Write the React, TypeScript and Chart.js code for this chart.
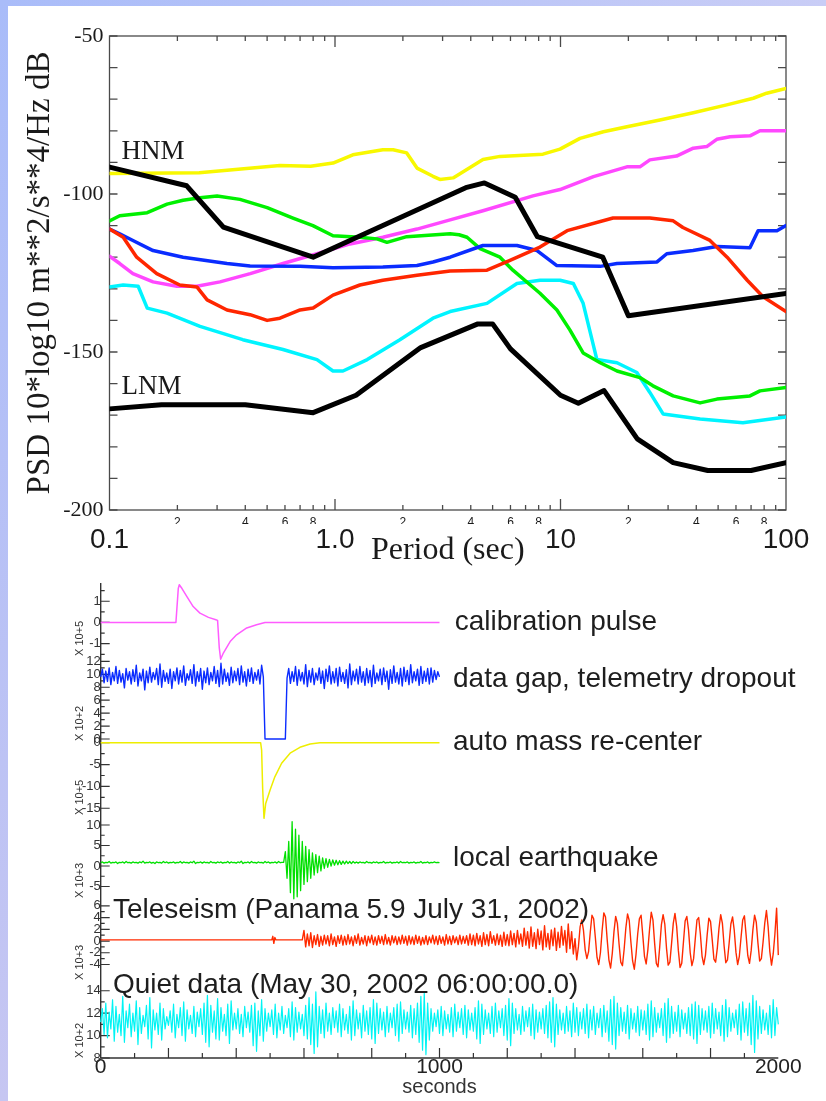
import React, { useEffect, useRef } from 'react';
import { Chart, registerables } from 'chart.js';

Chart.register(...registerables);

const SANS = "'Liberation Sans', Arial, Helvetica, sans-serif";
const SERIF = "'Liberation Serif', 'Times New Roman', Times, serif";

// ---------------- PSD panel: period (s) vs power (dB) ----------------
const hnmPeriod = [0.1, 0.22, 0.32, 0.8, 3.8, 4.6, 6.3, 7.9, 15.4, 20, 100];
const hnmDb = [-91.5, -97.4, -110.5, -120.0, -98.0, -96.5, -101.0, -113.5, -120.0, -138.5, -131.5];

const lnmPeriod = [0.1, 0.17, 0.4, 0.8, 1.24, 2.4, 4.3, 5.0, 6.0, 10, 12, 15.6, 21.9, 31.6, 45, 70, 100];
const lnmDb = [-168.0, -166.7, -166.7, -169.2, -163.7, -148.6, -141.1, -141.1, -149.0, -163.7, -166.2, -162.2, -177.5, -185.0, -187.5, -187.5, -185.0];

const yellowPeriod = [0.1, 0.25, 0.57, 0.78, 0.98, 1.2, 1.63, 1.81, 2.08, 2.31, 2.72, 2.92, 3.34, 4.53, 5.39, 8.36, 9.95, 12.2, 15.5, 19.7, 27.6, 38.8, 54.6, 71.6, 82.1, 100];
const yellowDb = [-93.5, -93.3, -91, -91.2, -90.2, -87.6, -86, -86, -87, -91.8, -94.4, -95.4, -94.9, -89.1, -88.1, -87.4, -85.8, -82.4, -80.3, -78.7, -76.6, -74.3, -71.8, -69.7, -68.1, -66.6];

const magentaPeriod = [0.1, 0.111, 0.127, 0.156, 0.199, 0.244, 0.309, 0.421, 0.588, 0.832, 1.166, 1.63, 2.31, 3.24, 4.53, 7.55, 9.95, 14.0, 19.7, 22.5, 24.9, 32.7, 38.8, 44.5, 49.3, 56.5, 69.2, 76.7, 100];
const magentaDb = [-119.7, -122, -125.2, -127.8, -129.2, -129.2, -127.8, -125.2, -122, -118.9, -115.8, -113.7, -111.1, -108.2, -105.3, -100.6, -98.6, -94.5, -91.4, -91.4, -89.2, -88, -85.5, -85, -82.7, -81.9, -81.6, -80, -80];

const redPeriod = [0.1, 0.115, 0.132, 0.162, 0.205, 0.244, 0.271, 0.332, 0.42, 0.5, 0.57, 0.70, 0.8, 0.98, 1.29, 1.63, 2.31, 3.24, 4.72, 5.97, 8.11, 10.7, 17.1, 24.9, 31.6, 34.9, 46, 54.8, 67.3, 79.1, 100];
const redDb = [-111.1, -113.7, -120, -125.2, -128.8, -129.4, -133.5, -136.7, -138.2, -140, -139.3, -136.7, -136.1, -132, -128.8, -127.3, -125.7, -124.4, -124.1, -121, -116.8, -111.6, -107.6, -107.6, -108.5, -110.6, -114.7, -120, -127.3, -132.5, -137.2];

const bluePeriod = [0.1, 0.111, 0.127, 0.156, 0.212, 0.332, 0.42, 0.70, 0.98, 1.63, 2.31, 2.72, 3.24, 4.53, 6.41, 7.87, 9.6, 15, 17.8, 26.8, 29.6, 38.7, 49.4, 56.5, 69.2, 75.2, 91.2, 100];
const blueDb = [-111.1, -112.6, -114.7, -117.9, -120, -122, -122.8, -122.9, -123.3, -123.1, -122.6, -121.5, -120, -116.3, -116.3, -117.9, -122.6, -122.9, -122, -121.5, -118.9, -117.9, -116.6, -116.8, -117, -111.6, -111.6, -110];

const greenPeriod = [0.1, 0.111, 0.147, 0.18, 0.212, 0.252, 0.30, 0.379, 0.50, 0.651, 0.798, 0.98, 1.29, 1.535, 1.70, 2.08, 3.24, 3.55, 3.85, 4.40, 5.39, 6.15, 8.11, 9.64, 11.0, 12.6, 15.0, 17.8, 22.5, 25.7, 31.6, 41.6, 49.4, 69.2, 76.7, 100];
const greenDb = [-108.5, -106.9, -105.9, -103.2, -102, -101.2, -100.6, -101.7, -104.3, -107.6, -110, -113.2, -113.7, -114.2, -115.3, -113.5, -112.6, -112.9, -113.7, -117.3, -120, -124.1, -131.4, -136.7, -143, -150.3, -153.4, -156, -158.1, -160.7, -163.9, -166.1, -164.9, -163.9, -162.3, -161.2];

const cyanPeriod = [0.1, 0.115, 0.134, 0.147, 0.18, 0.252, 0.39, 0.588, 0.832, 0.98, 1.085, 1.39, 1.94, 2.72, 3.24, 4.72, 6.41, 8.11, 9.96, 11.4, 12.6, 14.5, 17.8, 21.8, 24.9, 28.5, 41.6, 64.4, 100];
const cyanDb = [-129.4, -128.8, -129.2, -136.1, -137.7, -141.9, -146.1, -149.2, -152.4, -156, -156, -152.4, -146.1, -139.3, -137.2, -134.6, -128.3, -127.3, -127.3, -128.3, -134.6, -152.4, -153.4, -156.5, -162.8, -169.6, -171.2, -172.4, -170.6];

const periodLabelTicks = [0.1, 1, 10, 100];
const periodLabels = ['0.1', '1.0', '10', '100'];
const periodMinorLabelTicks = [0.2, 0.4, 0.6, 0.8, 2, 4, 6, 8, 20, 40, 60, 80];
const periodMinorLabels = ['2', '4', '6', '8', '2', '4', '6', '8', '2', '4', '6', '8'];
const periodMinorTicks = [0.2, 0.3, 0.4, 0.5, 0.6, 0.7, 0.8, 0.9, 2, 3, 4, 5, 6, 7, 8, 9, 20, 30, 40, 50, 60, 70, 80, 90];
const periodDecadeTicks = [1, 10];
const dbLabelTicks = [-200, -150, -100, -50];
const dbMinorTicks = [-190, -180, -170, -160, -140, -130, -120, -110, -90, -80, -70, -60];

const noiseModelNotes = [
  { text: 'HNM', period: 0.113, db: -86.7 },
  { text: 'LNM', period: 0.113, db: -161.1 },
];

// ---------------- Seismogram panel: seconds vs counts ----------------
const calT = [0, 222, 224, 229, 232, 240, 254, 273, 293, 318, 340, 345, 350, 354, 362, 382, 401, 431, 460, 485, 1000];
const calV = [0, 0, 0.45, 1.6, 1.78, 1.6, 1.23, 0.75, 0.44, 0.24, 0.13, 0.1, -1.2, -1.73, -1.44, -0.9, -0.58, -0.26, -0.11, 0, 0];

// 5 s samples from 0 s
const gapBefore = [
  9.6, 10.8, 8.7, 10.5, 8.9, 11.0, 8.4, 10.3, 9.0, 11.2, 8.6, 10.6, 8.8, 10.1, 7.9, 10.9, 9.1, 10.4, 8.5, 10.7,
  8.9, 11.4, 8.2, 10.2, 9.0, 10.8, 7.6, 10.5, 8.7, 11.1, 8.8, 10.3, 9.2, 10.9, 8.4, 11.6, 8.0, 10.6, 8.9, 10.2,
  8.6, 10.8, 7.8, 10.4, 9.0, 11.0, 8.5, 10.6, 8.8, 11.3, 8.3, 10.1, 9.1, 10.7, 8.6, 11.5, 8.2, 10.4, 8.9, 10.9,
  7.7, 10.5, 8.7, 11.0, 8.4, 10.3, 9.0, 11.2, 8.6, 10.6, 8.1, 11.7, 8.5, 10.8, 8.9, 10.2, 8.3, 11.1, 8.7, 10.5,
  9.0, 10.9, 8.4, 11.3, 8.8, 10.4, 8.2, 10.8, 8.9, 11.0, 8.6, 10.3, 9.1, 10.7, 8.5, 11.4, 9.6,
];
const gapDropout = [0, 0, 0, 0, 0, 0, 0, 0, 0, 0, 0, 0, 0];
const gapAfter = [
  9.4, 10.9, 8.6, 10.4, 8.9, 11.2, 8.3, 10.7, 9.0, 10.3, 8.5, 11.5, 8.1, 10.6, 8.8, 10.9, 8.4, 10.2, 9.1, 11.0,
  8.6, 10.5, 7.8, 10.8, 8.9, 11.3, 8.5, 10.4, 8.7, 10.9, 8.2, 11.1, 8.9, 10.3, 8.6, 10.7, 7.9, 11.6, 8.4, 10.5,
  9.0, 10.8, 8.5, 11.2, 8.8, 10.4, 8.3, 10.9, 8.7, 10.6, 8.1, 11.4, 8.6, 10.2, 9.0, 10.8, 8.4, 11.0, 8.9, 10.5,
  7.7, 10.7, 8.6, 11.3, 8.8, 10.3, 8.5, 10.9, 8.2, 11.1, 8.9, 10.6, 8.4, 11.5, 8.7, 10.4, 9.0, 10.8, 8.3, 11.2,
  8.6, 10.5, 8.9, 10.9, 8.5, 11.0, 8.8, 10.6, 9.2, 10.4, 9.6,
];

const recenterT = [0, 472, 475, 478, 482, 487, 500, 514, 534, 559, 588, 618, 647, 1000];
const recenterV = [0, 0, -1.7, -10.4, -17.3, -13.9, -10.8, -7.8, -4.7, -2.4, -1.05, -0.3, 0, 0];

// 5 s samples from 0 s
const localQuiet = [
  0.8, 1.0, 0.7, 0.9, 0.8, 1.1, 0.7, 0.9, 0.8, 1.0, 0.6, 0.9, 0.8, 1.0, 0.7, 1.1, 0.8, 0.9, 0.7, 1.0,
  0.8, 0.9, 0.7, 1.0, 0.8, 1.2, 0.7, 0.9, 0.8, 1.0, 0.7, 0.9, 0.6, 1.0, 0.8, 0.9, 0.7, 1.1, 0.8, 1.0,
  0.7, 0.9, 0.8, 1.0, 0.7, 0.9, 0.8, 1.1, 0.7, 1.0, 0.8, 0.9, 0.7, 1.0, 0.8, 1.2, 0.6, 0.9, 0.8, 1.0,
  0.7, 1.0, 0.8, 0.9, 0.7, 1.1, 0.8, 0.9, 0.7, 1.0, 0.8, 1.0, 0.7, 0.9, 0.8, 1.1, 0.7, 1.0, 0.8, 0.9,
  0.7, 1.0, 0.8, 1.2, 0.6, 0.9, 0.8, 1.0, 0.7, 1.1, 0.8, 0.9, 0.7, 1.0, 0.8, 0.9, 0.7, 1.1, 0.8, 1.0,
  0.7, 0.9, 0.8, 1.0, 0.7, 1.1, 0.8, 0.9, 0.9,
];
const localBurst = [
  3.5, -3.0, 6.0, -6.5, 10.8, -8.0, 9.0, -7.5, 7.5, -6.0, 6.0, -4.5, 4.8, -3.8, 4.0, -3.0, 3.2, -2.2, 2.8, -1.6,
  2.4, -1.2, 2.0, -0.6, 1.8, -0.3, 1.6, 0.0, 1.5, 0.2, 1.4, 0.3, 1.3, 0.4, 1.2, 0.5, 1.2, 0.6, 1.1, 0.6,
  1.1, 0.7,
];
const localCoda = [
  1.0, 0.7, 1.0, 0.8, 0.9, 0.7, 1.1, 0.8, 0.9, 0.7, 1.0, 0.8, 1.0, 0.7, 0.9, 0.8, 1.1, 0.7, 0.9, 0.8,
  1.0, 0.7, 0.9, 0.8, 1.0, 0.7, 1.1, 0.8, 0.9, 0.8, 1.0, 0.7, 0.9, 0.8, 1.0, 0.7, 0.9, 0.8, 1.1, 0.7,
  0.9, 0.8, 1.0, 0.7, 0.9, 0.8, 1.0, 0.8, 0.9, 0.8,
];

const teleQuietT = [0, 505, 508, 511, 514, 517, 595];
const teleQuietV = [0.2, 0.2, 0.8, -0.4, 0.6, 0.2, 0.2];
// 5 s samples from 600 s
const teleBody = [
  1.8, -1.0, 1.2, -0.8, 1.4, -1.1, 0.9, -0.6, 1.1, -0.9, 0.8, -0.7, 1.0, -0.5, 0.9, -0.8, 1.2, -0.6, 0.7, -0.9,
  0.9, -0.4, 1.0, -0.7, 0.8, -0.6, 1.1, -0.5, 0.7, -0.8, 0.9, -0.4, 1.2, -0.7, 0.6, -0.5, 0.9, -0.8, 0.8, -0.3,
  1.0, -0.6, 0.7, -0.7, 0.9, -0.4, 0.8, -0.6, 1.1, -0.5, 0.6, -0.7, 0.9, -0.3, 0.8, -0.6, 0.7, -0.5, 1.0, -0.4,
  0.8, -0.7, 0.9, -0.5, 0.7, -0.6, 1.0, -0.4, 0.8, -0.7, 0.6, -0.5, 0.9, -0.6, 0.7, -0.3, 1.0, -0.5, 0.8, -0.6,
  0.9, -0.4, 0.7, -0.7, 1.1, -0.5, 0.8, -0.6, 0.9, -0.3, 0.7, -0.6, 1.0, -0.5, 0.8, -0.4, 0.9, -0.7, 1.2, -0.6,
  1.0, -0.8, 1.3, -0.5, 0.9, -0.9, 1.4, -0.6, 1.1, -0.8, 1.6, -0.4, 0.9, -0.7, 1.2, -0.6, 1.0, -0.9, 1.5, -0.7,
  1.1, -0.8, 1.7, -0.6, 1.3, -1.0, 1.8, -0.5, 1.2, -0.9, 2.2,
];
const teleBuild = [
  -0.7, 1.6, -1.2, 2.4, -0.9, 1.4, -1.3, 2.0, -0.6, 1.7, -1.5, 2.6, -1.0, 1.3, -1.4, 1.9, -0.8, 2.2, -1.6, 1.5,
  -1.1, 2.5, -0.7, 1.8, -1.9, 2.9, -1.3, 1.6, -2.2, 0.4,
];
const teleSurface = [
  -3.2, -1.0, 2.4, 3.6, 1.8, -1.5, -3.0,
  -1.8, 1.5, 4.4, 3.8, 0.6, -2.8, -4.0,
  -2.0, 1.8, 4.8, 4.1, 0.2, -3.2, -4.6, -2.1,
  1.6, 4.2, 3.0, -0.5, -3.6, -4.2,
  -1.4, 2.2, 4.6, 3.5, -0.2, -3.4, -4.8,
  -2.3, 1.2, 3.8, 4.4, 1.0, -2.6, -3.9,
  -1.5, 2.0, 4.9, 3.6, -0.4, -3.8, -4.4,
  -1.0, 2.8, 4.5, 2.9, -1.2, -4.1, -3.6,
  -0.4, 3.0, 4.7, 2.5, -1.6, -4.5, -3.8,
  -0.2, 3.4, 4.2, 1.9, -2.0, -4.2, -3.0,
  0.4, 3.6, 4.0, 1.2, -2.6, -4.0, -2.4,
  1.0, 3.9, 3.3, 0.2, -3.1, -3.6, -1.2,
  2.2, 4.5, 3.0, -0.8, -3.7, -3.2, -0.3,
  2.9, 4.1, 1.8, -1.9, -4.0, -2.6, 0.6,
  3.6, 4.3, 1.0, -2.5, -3.8, -1.6, 1.9,
  4.4, 3.2, -0.4, -3.4, -3.0, -0.2, 3.0,
  5.2, 2.4, -1.8, -4.1, -2.2, 1.2, 5.6, -2.4,
];

// 5 s samples from 0 s
const quietValues = [
  11.2, 12.4, 10.1, 12.9, 9.8, 12.1, 10.6, 13.2, 9.5, 12.6, 10.3, 11.9, 10.0, 13.5, 9.4, 12.2, 10.7, 12.8, 9.9, 12.0,
  10.4, 13.1, 9.2, 12.5, 10.2, 11.8, 10.8, 12.7, 9.7, 13.4, 8.9, 12.3, 10.5, 12.0, 10.1, 12.9, 9.6, 12.4, 10.6, 11.7,
  10.9, 12.2, 10.3, 12.8, 9.8, 11.9, 10.7, 12.5, 10.0, 13.0, 9.5, 12.3, 10.6, 11.8, 10.2, 12.6, 9.9, 12.1, 10.8, 12.4,
  10.1, 12.9, 9.4, 13.6, 9.0, 12.7, 10.3, 12.2, 9.7, 13.3, 9.6, 12.5, 10.4, 11.9, 10.0, 12.8, 9.3, 13.1, 10.5, 12.0,
  10.6, 12.4, 10.2, 11.9, 9.9, 12.6, 10.7, 12.1, 10.3, 12.7, 9.1, 12.9, 8.6, 12.2, 10.0, 13.2, 9.5, 12.4, 10.4, 12.0,
  10.8, 12.3, 10.1, 12.8, 9.8, 12.0, 10.5, 12.6, 10.2, 11.8, 10.7, 12.4, 9.9, 13.0, 9.6, 12.5, 10.3, 12.1, 10.6, 11.9,
  10.0, 12.7, 9.7, 13.4, 9.2, 12.8, 8.4, 13.9, 9.0, 12.6, 10.2, 12.3, 9.8, 12.9, 10.4, 12.0, 10.1, 12.5, 10.7, 12.2,
  10.3, 12.8, 9.9, 12.4, 10.5, 11.9, 10.2, 12.6, 9.6, 13.1, 10.0, 12.3, 10.6, 12.0, 9.8, 12.7, 10.4, 12.2, 10.1, 12.5,
  9.7, 13.2, 9.3, 12.9, 10.2, 12.4, 10.5, 12.1, 9.9, 12.6, 10.3, 12.0, 10.7, 12.5, 10.0, 12.8, 9.5, 13.0, 10.2, 12.3,
  10.6, 12.1, 10.3, 12.7, 9.8, 12.4, 10.1, 12.9, 9.4, 13.5, 8.7, 13.8, 8.3, 12.9, 9.6, 12.4, 10.4, 12.0, 10.8, 12.3,
  10.2, 12.6, 10.0, 12.2, 10.6, 11.9, 10.3, 12.5, 9.9, 12.8, 10.4, 12.1, 10.7, 12.4, 10.1, 12.7, 9.8, 12.3, 10.5, 12.0,
  10.4, 12.5, 9.7, 13.1, 9.3, 12.8, 10.1, 12.3, 10.6, 12.0, 10.2, 12.6, 9.9, 12.9, 10.3, 12.2, 10.7, 12.4, 10.0, 12.7,
  9.6, 13.3, 9.1, 12.9, 10.2, 12.4, 10.5, 11.9, 10.1, 12.6, 10.4, 12.2, 10.8, 12.5, 10.0, 12.8, 9.7, 12.3, 10.3, 12.1,
  10.6, 12.4, 10.2, 12.7, 9.8, 13.0, 9.4, 13.4, 9.0, 12.8, 10.1, 12.3, 10.5, 12.0, 10.2, 12.6, 10.4, 12.2, 9.9, 12.9,
  10.3, 12.5, 10.0, 12.1, 10.6, 12.4, 10.2, 12.8, 9.8, 12.3, 10.5, 12.6, 10.1, 12.0, 10.7, 12.4, 9.9, 12.7, 10.3, 12.2,
  9.5, 13.2, 9.2, 13.5, 8.8, 12.9, 10.0, 12.5, 10.4, 12.1, 10.2, 12.7, 9.7, 12.4, 10.6, 12.0, 10.3, 12.6, 10.0, 12.3,
  10.5, 12.2, 10.1, 12.8, 9.6, 13.1, 9.9, 12.5, 10.3, 12.0, 10.7, 12.4, 10.0, 12.9, 9.4, 13.3, 9.8, 12.6, 10.2, 12.1,
  10.4, 12.7, 9.9, 12.3, 10.6, 12.0, 10.2, 12.5, 10.0, 12.8, 9.7, 13.0, 9.3, 12.7, 10.1, 12.4, 10.5, 12.2, 10.3, 12.6,
  9.8, 12.9, 10.2, 12.4, 10.6, 12.1, 10.0, 12.7, 9.5, 13.2, 9.9, 12.5, 10.4, 12.0, 10.7, 12.3, 10.1, 12.8, 9.6, 13.0,
  10.3, 12.4, 10.0, 12.9, 9.2, 13.6, 8.5, 13.1, 9.7, 12.6, 10.2, 12.3, 10.5, 12.0, 10.1, 12.7, 9.8, 13.2, 10.0, 12.5,
  11.0,
];

const secondsLabelTicks = [0, 1000, 2000];
const secondsLongTicks = [200, 400, 600, 800, 1000, 1200, 1400, 1600, 1800];
const secondsShortTicks = [100, 300, 500, 700, 900, 1100, 1300, 1500, 1700, 1900];

const calMajor = [-1, 0, 1];
const calMinor = [-1.5, -0.5, 0.5, 1.5];
const gapMajor = [0, 2, 4, 6, 8, 10, 12];
const gapMinor = [1, 3, 5, 7, 9, 11];
const recenterMajor = [-15, -10, -5, 0];
const recenterMinor = [-12.5, -7.5, -2.5];
const localMajor = [-5, 0, 5, 10];
const localMinor = [-2.5, 2.5, 7.5];
const teleMajor = [-4, -2, 0, 2, 4, 6];
const teleMinor = [-3, -1, 1, 3, 5];
const quietMajor = [8, 10, 12, 14];
const quietMinor = [9, 11, 13];

const pairs = (xs: number[], ys: number[]) => xs.map((x, i) => ({ x, y: ys[i] }));
const sampled = (t0: number, dt: number, vs: number[]) => vs.map((v, i) => ({ x: t0 + i * dt, y: v }));

// one band per trace, top to bottom; band height is the stack weight in px
const traceBands = [
  { id: 'cal', unit: 'X 10+5', min: -1.58, max: 1.86, height: 73, major: calMajor, minor: calMinor },
  { id: 'gap', unit: 'X 10+2', min: -0.31, max: 12.83, height: 85, major: gapMajor, minor: gapMinor },
  { id: 'recenter', unit: 'X 10+5', min: -16.54, max: 0.39, height: 74, major: recenterMajor, minor: recenterMinor },
  { id: 'local', unit: 'X 10+3', min: -7.8, max: 12.44, height: 83, major: localMajor, minor: localMinor },
  { id: 'tele', unit: 'X 10+3', min: -6.64, max: 7.33, height: 82, major: teleMajor, minor: teleMinor },
  { id: 'quiet', unit: 'X 10+2', min: 8, max: 14.96, height: 78, major: quietMajor, minor: quietMinor },
];

const traceCaptions = [
  { text: 'calibration pulse', axis: 'cal', t: 1045, v: 0 },
  { text: 'data gap, telemetry dropout', axis: 'gap', t: 1040, v: 9.2 },
  { text: 'auto mass re-center', axis: 'recenter', t: 1040, v: 0 },
  { text: 'local earthquake', axis: 'local', t: 1040, v: 1.8 },
  { text: 'Teleseism (Panama 5.9 July 31, 2002)', axis: 'tele', t: 36, v: 5.2 },
  { text: 'Quiet data (May 30, 2002 06:00:00.0)', axis: 'quiet', t: 36, v: 14.5 },
];

const psdDecor = {
  id: 'psdDecor',
  beforeDatasetsDraw(chart: any) {
    const { ctx, chartArea: a, scales } = chart;
    const x = scales.x;
    const y = scales.y;
    ctx.save();
    ctx.strokeStyle = '#4a4a4a';
    ctx.lineWidth = 1.3;
    ctx.strokeRect(a.left, a.top, a.right - a.left, a.bottom - a.top);
    ctx.beginPath();
    for (const p of periodMinorTicks) {
      const px = x.getPixelForValue(p);
      ctx.moveTo(px, a.bottom); ctx.lineTo(px, a.bottom - 5);
      ctx.moveTo(px, a.top); ctx.lineTo(px, a.top + 5);
    }
    for (const p of periodDecadeTicks) {
      const px = x.getPixelForValue(p);
      ctx.moveTo(px, a.bottom); ctx.lineTo(px, a.bottom - 11);
      ctx.moveTo(px, a.top); ctx.lineTo(px, a.top + 11);
    }
    for (const v of [...dbLabelTicks, ...dbMinorTicks]) {
      const py = y.getPixelForValue(v);
      ctx.moveTo(a.left, py); ctx.lineTo(a.left + 8, py);
      ctx.moveTo(a.right, py); ctx.lineTo(a.right - 8, py);
    }
    ctx.stroke();
    ctx.restore();
  },
  afterDatasetsDraw(chart: any) {
    const { ctx, scales } = chart;
    ctx.save();
    ctx.font = `27px ${SERIF}`;
    ctx.fillStyle = '#1a1a1a';
    ctx.textAlign = 'left';
    ctx.textBaseline = 'middle';
    for (const n of noiseModelNotes) {
      ctx.fillText(n.text, scales.x.getPixelForValue(n.period), scales.y.getPixelForValue(n.db));
    }
    ctx.restore();
  },
};

const traceDecor = {
  id: 'traceDecor',
  beforeDatasetsDraw(chart: any) {
    const { ctx, chartArea: a, scales } = chart;
    ctx.save();
    ctx.strokeStyle = '#333333';
    ctx.lineWidth = 1.4;
    ctx.beginPath();
    ctx.moveTo(a.left, a.top);
    ctx.lineTo(a.left, a.bottom);
    ctx.lineTo(a.right, a.bottom);
    ctx.stroke();
    ctx.lineWidth = 1.2;
    ctx.beginPath();
    for (const band of traceBands) {
      const s = scales[band.id];
      for (const v of band.major) {
        const py = s.getPixelForValue(v);
        ctx.moveTo(a.left, py); ctx.lineTo(a.left + 9, py);
      }
      for (const v of band.minor) {
        const py = s.getPixelForValue(v);
        ctx.moveTo(a.left, py); ctx.lineTo(a.left + 4, py);
      }
    }
    for (const t of secondsLongTicks) {
      const px = scales.x.getPixelForValue(t);
      ctx.moveTo(px, a.bottom); ctx.lineTo(px, a.bottom - 10);
    }
    for (const t of secondsShortTicks) {
      const px = scales.x.getPixelForValue(t);
      ctx.moveTo(px, a.bottom); ctx.lineTo(px, a.bottom - 5);
    }
    ctx.stroke();
    ctx.restore();
  },
  afterDatasetsDraw(chart: any) {
    const { ctx, scales } = chart;
    ctx.save();
    ctx.font = `28px ${SANS}`;
    ctx.fillStyle = '#1e1e1e';
    ctx.textAlign = 'left';
    ctx.textBaseline = 'middle';
    for (const c of traceCaptions) {
      ctx.fillText(c.text, scales.x.getPixelForValue(c.t), scales[c.axis].getPixelForValue(c.v));
    }
    ctx.restore();
  },
};

const hidden = { grid: { display: false, drawTicks: false }, border: { display: false } };

function psdConfig(): any {
  const curves = [
    { label: 'HNM', p: hnmPeriod, db: hnmDb, color: '#000000', width: 5 },
    { label: 'LNM', p: lnmPeriod, db: lnmDb, color: '#000000', width: 5 },
    { label: 'red', p: redPeriod, db: redDb, color: '#ff2600', width: 3.5 },
    { label: 'blue', p: bluePeriod, db: blueDb, color: '#0a2cff', width: 3.5 },
    { label: 'green', p: greenPeriod, db: greenDb, color: '#00f000', width: 3.5 },
    { label: 'cyan', p: cyanPeriod, db: cyanDb, color: '#00f4ff', width: 3.5 },
    { label: 'magenta', p: magentaPeriod, db: magentaDb, color: '#ff48ff', width: 3.5 },
    { label: 'yellow', p: yellowPeriod, db: yellowDb, color: '#f8f800', width: 3.5 },
  ];
  return {
    type: 'line',
    data: {
      datasets: curves.map((c) => ({
        label: c.label,
        data: pairs(c.p, c.db),
        borderColor: c.color,
        borderWidth: c.width,
        pointRadius: 0,
        tension: 0,
        fill: false,
        borderJoinStyle: 'round',
        borderCapStyle: 'round',
        xAxisID: 'x',
        yAxisID: 'y',
      })),
    },
    options: {
      responsive: false,
      animation: false,
      devicePixelRatio: 1,
      events: [],
      layout: { padding: { left: 0, top: 36, right: 40, bottom: 0 } },
      plugins: { legend: { display: false }, tooltip: { enabled: false }, title: { display: false } },
      scales: {
        x: {
          type: 'logarithmic', position: 'bottom', min: 0.1, max: 100, weight: 1, ...hidden,
          afterBuildTicks: (s: any) => { s.ticks = periodLabelTicks.map((value) => ({ value })); },
          afterFit: (s: any) => { s.height = 51; },
          ticks: {
            autoSkip: false, maxRotation: 0, padding: -1, color: '#1a1a1a',
            font: { family: SANS, size: 28 },
            callback: (_v: number, i: number) => periodLabels[i],
          },
          title: {
            display: true, text: 'Period (sec)', color: '#1a1a1a',
            font: { family: SERIF, size: 32 }, padding: { top: 0, bottom: 5 },
          },
        },
        x2: {
          type: 'logarithmic', position: 'bottom', min: 0.1, max: 100, weight: 0, ...hidden,
          afterBuildTicks: (s: any) => { s.ticks = periodMinorLabelTicks.map((value) => ({ value })); },
          afterFit: (s: any) => { s.height = 14; },
          ticks: {
            autoSkip: false, maxRotation: 0, padding: 5, color: '#1a1a1a',
            font: { family: SANS, size: 12 },
            callback: (_v: number, i: number) => periodMinorLabels[i],
          },
        },
        y: {
          type: 'linear', position: 'left', min: -200, max: -50, ...hidden,
          afterBuildTicks: (s: any) => { s.ticks = dbLabelTicks.map((value) => ({ value })); },
          afterFit: (s: any) => { s.width = 109.5; },
          ticks: {
            autoSkip: false, padding: 6, color: '#1a1a1a',
            font: { family: SERIF, size: 22 },
            callback: (v: number) => String(v),
          },
          title: {
            display: true, text: 'PSD 10*log10 m**2/s**4/Hz dB', color: '#1a1a1a',
            font: { family: SERIF, size: 33 }, padding: { top: 21, bottom: 0 },
          },
        },
      },
    },
    plugins: [psdDecor],
  };
}

function traceConfig(): any {
  const traces = [
    { id: 'cal', label: 'calibration pulse', data: pairs(calT, calV), color: '#ff5cff', width: 1.5 },
    { id: 'gap', label: 'data gap', data: sampled(0, 5, [...gapBefore, ...gapDropout, ...gapAfter]), color: '#0b2cff', width: 1.4 },
    { id: 'recenter', label: 'mass re-center', data: pairs(recenterT, recenterV), color: '#eeee00', width: 1.5 },
    { id: 'local', label: 'local earthquake', data: sampled(0, 5, [...localQuiet, ...localBurst, ...localCoda]), color: '#00e000', width: 1.3 },
    {
      id: 'tele', label: 'teleseism',
      data: [...pairs(teleQuietT, teleQuietV), ...sampled(600, 5, [...teleBody, ...teleBuild, ...teleSurface])],
      color: '#ff2a00', width: 1.4,
    },
    { id: 'quiet', label: 'quiet data', data: sampled(0, 5, quietValues), color: '#00f4f4', width: 1.2 },
  ];

  const scales: any = {
    x: {
      type: 'linear', position: 'bottom', min: 0, max: 2000, ...hidden,
      afterBuildTicks: (s: any) => { s.ticks = secondsLabelTicks.map((value) => ({ value })); },
      afterFit: (s: any) => { s.height = 43; },
      ticks: {
        autoSkip: false, maxRotation: 0, padding: -3, color: '#222222',
        font: { family: SANS, size: 21 },
        callback: (v: number) => String(v),
      },
      title: {
        display: true, text: 'seconds', color: '#333333',
        font: { family: SANS, size: 20 }, padding: { top: 0, bottom: 2 },
      },
    },
  };
  traceBands.forEach((band, i) => {
    scales[band.id] = {
      type: 'linear', position: 'left', stack: 'traces', stackWeight: band.height,
      weight: traceBands.length - i, min: band.min, max: band.max, ...hidden,
      afterBuildTicks: (s: any) => { s.ticks = band.major.map((value) => ({ value })); },
      afterFit: (s: any) => { s.width = 100.7; },
      ticks: {
        autoSkip: false, padding: 0, color: '#333333',
        font: { family: SANS, size: 13 },
        callback: (v: number) => String(v),
      },
      title: {
        display: true, text: band.unit, align: 'start', color: '#333333',
        font: { family: SANS, size: 11 }, padding: { top: 73, bottom: 0 },
      },
    };
  });

  return {
    type: 'line',
    data: {
      datasets: traces.map((t) => ({
        label: t.label,
        data: t.data,
        borderColor: t.color,
        borderWidth: t.width,
        pointRadius: 0,
        tension: 0,
        fill: false,
        clip: false,
        borderJoinStyle: 'round',
        xAxisID: 'x',
        yAxisID: t.id,
      })),
    },
    options: {
      responsive: false,
      animation: false,
      devicePixelRatio: 1,
      events: [],
      layout: { padding: { left: 0, top: 8, right: 47.7, bottom: 0 } },
      plugins: { legend: { display: false }, tooltip: { enabled: false }, title: { display: false } },
      scales,
    },
    plugins: [traceDecor],
  };
}

export default function App() {
  const psdRef = useRef<HTMLCanvasElement>(null);
  const traceRef = useRef<HTMLCanvasElement>(null);

  useEffect(() => {
    const psd = new Chart(psdRef.current as HTMLCanvasElement, psdConfig());
    const traces = new Chart(traceRef.current as HTMLCanvasElement, traceConfig());
    return () => {
      psd.destroy();
      traces.destroy();
    };
  }, []);

  return (
    <div style={{ position: 'absolute', left: 0, top: 0, width: 826, height: 1101, background: '#ffffff', overflow: 'hidden' }}>
      <div style={{ position: 'absolute', left: 0, top: 0, width: 826, height: 6, background: 'linear-gradient(90deg, #a9bcf9, #c9cdf6)' }} />
      <div style={{ position: 'absolute', left: 0, top: 0, width: 8, height: 1101, background: 'linear-gradient(180deg, #a9bcf9, #c6c6f2)' }} />
      <canvas ref={psdRef} width={826} height={575} style={{ position: 'absolute', left: 0, top: 0, width: 826, height: 575 }} />
      <canvas ref={traceRef} width={826} height={526} style={{ position: 'absolute', left: 0, top: 575, width: 826, height: 526 }} />
    </div>
  );
}
